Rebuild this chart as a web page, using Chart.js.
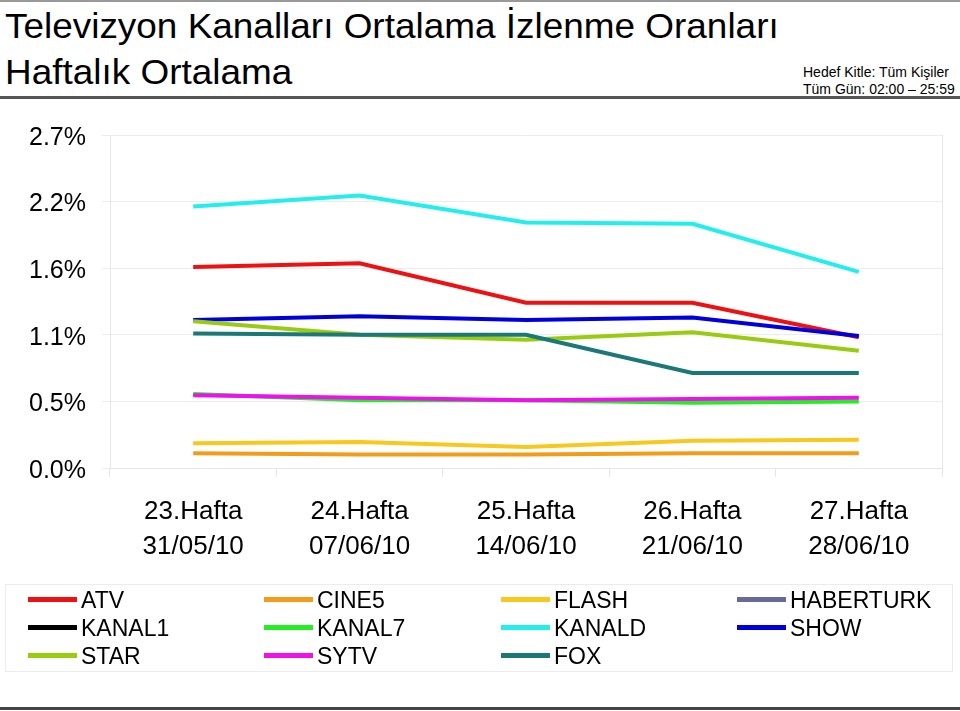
<!DOCTYPE html>
<html>
<head>
    <meta charset="utf-8">
    <title>Televizyon Kanalları Ortalama İzlenme Oranları</title>
    <script src="https://cdn.jsdelivr.net/npm/chart.js"></script>
    <style>
        body { margin: 0; width: 960px; height: 711px; position: relative; background: #fff; overflow: hidden;
               font-family: "Liberation Sans", Arial, sans-serif; color: #000; }
        .abs { position: absolute; white-space: nowrap; }
        .title { font-size: 35px; line-height: 35px; left: 5px; transform: scaleX(1.055); transform-origin: left top; }
        .info { font-size: 14px; line-height: 14px; left: 803px; }
        #chartWrap { position: absolute; left: 0; top: 0; width: 960px; height: 711px; }
        #legendBox { position: absolute; left: 5px; top: 584px; width: 946px; height: 86px; border: 1px solid #ececec; }
        .sw { position: absolute; width: 49px; height: 5px; }
        .lt { position: absolute; font-size: 23px; line-height: 23px; white-space: nowrap; }
    </style>
</head>
<body>
    <div class="abs" style="left:0;top:0;width:960px;height:2px;background:#999;"></div>
    <div class="abs title" style="top:8px;">Televizyon Kanalları Ortalama İzlenme Oranları</div>
    <div class="abs title" style="top:54px;">Haftalık Ortalama</div>
    <div class="abs info" style="top:65px;">Hedef Kitle: Tüm Kişiler</div>
    <div class="abs info" style="top:82px;">Tüm Gün: 02:00 – 25:59</div>
    <div class="abs" style="left:0;top:96px;width:960px;height:3px;background:#555;"></div>

    <div id="chartWrap"><canvas id="tvChart" width="960" height="711"></canvas></div>

    <div id="legendBox"></div>
    <div class="abs" style="left:0;top:707px;width:960px;height:3px;background:#444;"></div>

    <script>
        // weeks shown on the x axis (two lines each)
        var weeks = ['23.Hafta', '24.Hafta', '25.Hafta', '26.Hafta', '27.Hafta'];
        var weekDates = ['31/05/10', '07/06/10', '14/06/10', '21/06/10', '28/06/10'];
        var yTicks = [0, 0.54, 1.08, 1.62, 2.16, 2.7];

        // channel names, colours and weekly share (%)
        var channels = ['ATV', 'CINE5', 'FLASH', 'HABERTURK', 'KANAL1', 'KANAL7', 'KANALD', 'SHOW', 'STAR', 'SYTV', 'FOX'];
        var colors = ['#ee1111', '#f39c1a', '#f8c81c', '#6a6a9a', '#000000', '#22ee22', '#22eeee', '#0000dd', '#99cc11', '#ee11ee', '#1a7878'];

        var atv = [1.63, 1.66, 1.34, 1.34, 1.06];
        var cine5 = [0.12, 0.11, 0.11, 0.12, 0.12];
        var flash = [0.20, 0.21, 0.17, 0.22, 0.23];
        var haberturk = [null, null, null, null, null];
        var kanal1 = [null, null, null, null, null];
        var kanal7 = [0.60, 0.55, 0.55, 0.53, 0.54];
        var kanald = [2.12, 2.21, 1.99, 1.98, 1.59];
        var show = [1.20, 1.23, 1.20, 1.22, 1.07];
        var star = [1.19, 1.08, 1.04, 1.10, 0.95];
        var sytv = [0.59, 0.57, 0.55, 0.56, 0.57];
        var fox = [1.09, 1.08, 1.08, 0.77, 0.77];

        var series = [atv, cine5, flash, haberturk, kanal1, kanal7, kanald, show, star, sytv, fox];

        var datasets = channels.map(function (name, i) {
            return {
                label: name,
                data: series[i],
                borderColor: colors[i],
                backgroundColor: colors[i],
                borderWidth: 4,
                pointRadius: 0,
                tension: 0,
                fill: false,
                order: channels.length - i   // later series drawn on top
            };
        });

        // faint right edge of the plot
        var rightEdge = {
            id: 'rightEdge',
            afterDraw: function (chart) {
                var a = chart.chartArea, c = chart.ctx;
                c.save();
                c.strokeStyle = '#e6e6e6';
                c.lineWidth = 1;
                c.beginPath();
                c.moveTo(a.right + 0.5, a.top);
                c.lineTo(a.right + 0.5, a.bottom);
                c.stroke();
                c.restore();
            }
        };

        var ctx = document.getElementById('tvChart').getContext('2d');
        var chart = new Chart(ctx, {
            type: 'line',
            data: {
                labels: weeks.map(function (w, i) { return [w, weekDates[i]]; }),
                datasets: datasets
            },
            options: {
                responsive: false,
                animation: false,
                layout: { padding: { left: 0, right: 18, top: 135, bottom: 143 } },
                plugins: { legend: { display: false }, tooltip: { enabled: false } },
                scales: {
                    x: {
                        offset: true,
                        grid: { display: true, drawOnChartArea: false, color: '#e6e6e6', tickLength: 9, offset: true },
                        border: { color: '#e6e6e6' },
                        ticks: {
                            color: '#000',
                            padding: 18,
                            maxRotation: 0,
                            font: { family: 'Liberation Sans', size: 26, lineHeight: 1.33 }
                        },
                        afterFit: function (s) { s.height = 100; }
                    },
                    y: {
                        min: 0,
                        max: 2.7,
                        grid: { color: '#ececec', tickLength: 8 },
                        border: { color: '#e6e6e6' },
                        afterBuildTicks: function (s) {
                            s.ticks = yTicks.map(function (v) { return { value: v }; });
                        },
                        ticks: {
                            color: '#000',
                            padding: 16,
                            labelOffset: 3,
                            font: { family: 'Liberation Sans', size: 25 },
                            callback: function (v) { return v.toFixed(1) + '%'; }
                        },
                        afterFit: function (s) { s.width = 110; }
                    }
                }
            },
            plugins: [rightEdge]
        });

        // legend laid out in four columns like the original
        var box = document.getElementById('legendBox');
        var colX = [22, 258, 495, 731];
        var rowY = [15, 43, 71];
        channels.forEach(function (name, i) {
            var col = i % 4, row = Math.floor(i / 4);
            var sw = document.createElement('div');
            sw.className = 'sw';
            sw.style.left = colX[col] + 'px';
            sw.style.top = (rowY[row] - 3) + 'px';
            sw.style.background = colors[i];
            box.appendChild(sw);
            var t = document.createElement('div');
            t.className = 'lt';
            t.textContent = name;
            t.style.left = (colX[col] + 53) + 'px';
            t.style.top = (rowY[row] - 11) + 'px';
            box.appendChild(t);
        });
    </script>
</body>
</html>
